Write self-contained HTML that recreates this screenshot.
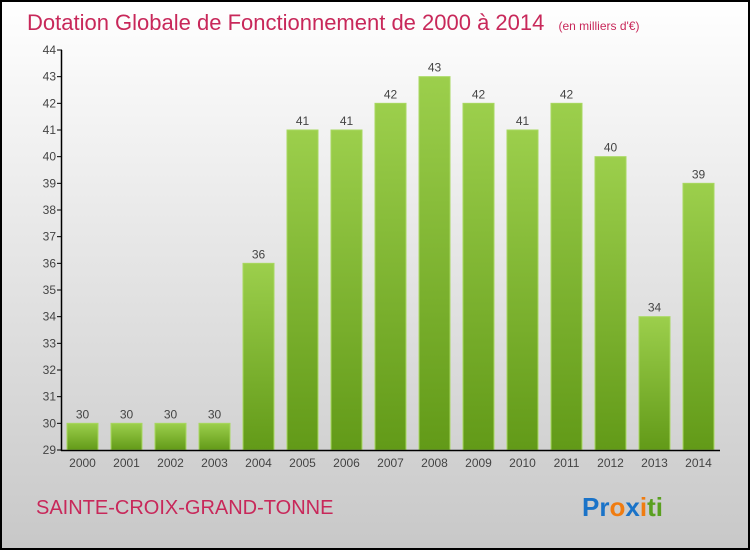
<!DOCTYPE html>
<html><head><meta charset="utf-8"><style>
body{margin:0}
#c{width:750px;height:550px;position:relative;font-family:"Liberation Sans",sans-serif}
</style></head><body>
<div id="c">
<svg width="750" height="550" xmlns="http://www.w3.org/2000/svg">
<defs>
<linearGradient id="bg" x1="0" y1="0" x2="0" y2="1"><stop offset="0" stop-color="#ffffff"/><stop offset="1" stop-color="#c8c8c8"/></linearGradient>
<linearGradient id="bar" x1="0" y1="0" x2="0" y2="1"><stop offset="0" stop-color="#9ccf4c"/><stop offset="1" stop-color="#629a18"/></linearGradient>
</defs>
<rect x="1" y="1" width="748" height="548" fill="url(#bg)" stroke="#000" stroke-width="2"/>
<text x="27" y="30" font-size="22" fill="#c8285a">Dotation Globale de Fonctionnement de 2000 à 2014 <tspan font-size="12" dx="8">(en milliers d'€)</tspan></text>
<g id="plot"></g>
<text x="36" y="514" font-size="20" fill="#c8285a">SAINTE-CROIX-GRAND-TONNE</text>
<text x="582" y="516" font-size="26" font-weight="bold"><tspan fill="#1a73c8">Pr</tspan><tspan fill="#f07c10">o</tspan><tspan fill="#1a73c8">x</tspan><tspan fill="#f07c10">i</tspan><tspan fill="#5aa020">ti</tspan></text>
</svg>
</div>
<script>
const years=["2000","2001","2002","2003","2004","2005","2006","2007","2008","2009","2010","2011","2012","2013","2014"];
const values=[30,30,30,30,36,41,41,42,43,42,41,42,40,34,39];
const yTicks=[29,30,31,32,33,34,35,36,37,38,39,40,41,42,43,44];
const NS="http://www.w3.org/2000/svg";
const g=document.getElementById('plot');
const yMin=29,yMax=44,y0=450,y1=50;
const y=v=>y0-(v-yMin)/(yMax-yMin)*(y0-y1);
const x=i=>67+i*44;
function mk(t,a,txt){const e=document.createElementNS(NS,t);for(const k in a)e.setAttribute(k,a[k]);if(txt!==undefined)e.textContent=txt;g.appendChild(e);return e;}
values.forEach((v,i)=>{
 const r=mk('rect',{x:x(i),y:y(v),width:31,height:y0-y(v),fill:'url(#bar)',stroke:'#a8d860','stroke-width':1});
 
 
 const l=mk('text',{x:x(i)+15.5,y:y(v)-5,'font-size':12,'text-anchor':'middle',fill:'#444'},String(v));
 
 
 const xl=mk('text',{x:x(i)+15.5,y:467,'font-size':12,'text-anchor':'middle',fill:'#444'},years[i]);
 
 
});
yTicks.forEach(t=>{
 const tk=mk('line',{x1:57,x2:62,y1:y(t),y2:y(t),stroke:'#000'});
 
 
 const tl=mk('text',{x:56,y:y(t)+4,'font-size':12,'text-anchor':'end',fill:'#444'},String(t));
 
 
});
const ya=mk('line',{x1:61.5,x2:61.5,y1:y1,y2:y0+1,stroke:'#000','stroke-width':1.5});


const xa=mk('line',{x1:61,x2:720,y1:y0+0.5,y2:y0+0.5,stroke:'#000','stroke-width':1.5});


</script>
</body></html>
